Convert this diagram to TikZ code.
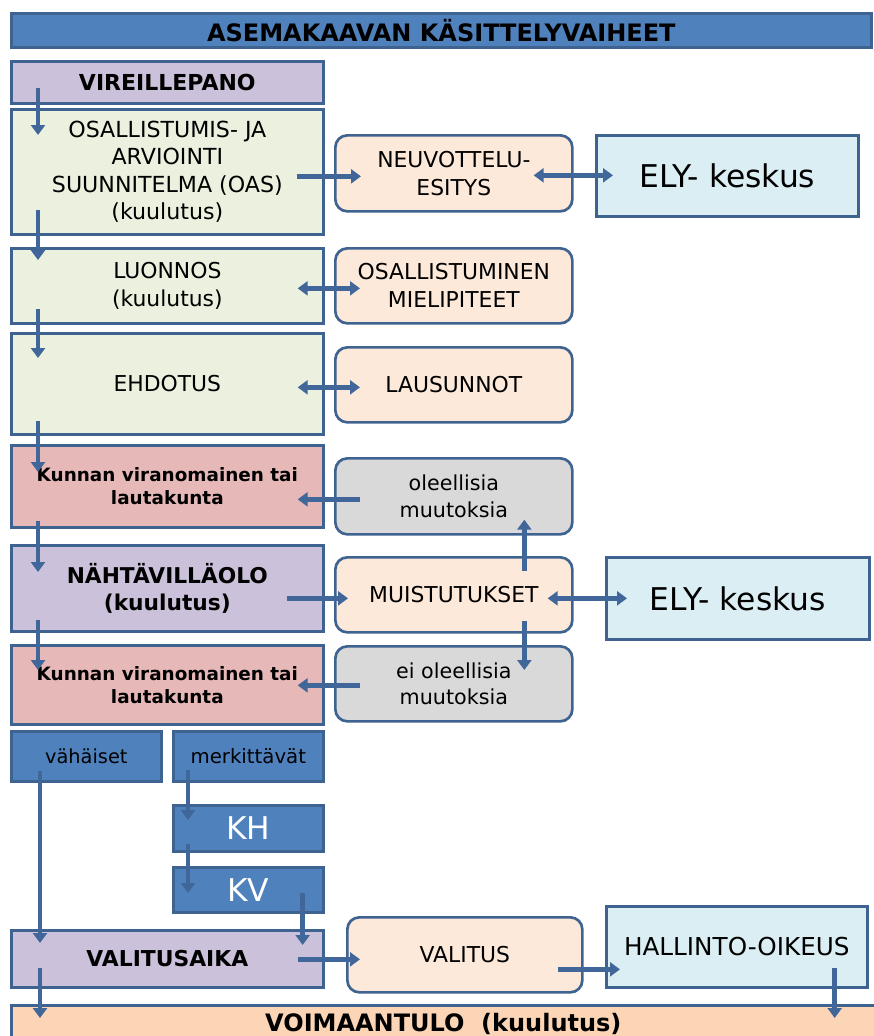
\documentclass[tikz,border=0pt]{standalone}
\usepackage{fontspec}
\setmainfont{DejaVu Sans}
\usetikzlibrary{arrows.meta}
\definecolor{bord}{HTML}{3F6390}
\definecolor{arrc}{HTML}{41679A}
\definecolor{titlec}{HTML}{4F81BD}
\definecolor{purp}{HTML}{CCC1DA}
\definecolor{gre}{HTML}{EBF1DE}
\definecolor{peach}{HTML}{FDE9D9}
\definecolor{lblue}{HTML}{DBEEF3}
\definecolor{pink}{HTML}{E6B9B8}
\definecolor{grey}{HTML}{D9D9D9}
\definecolor{voic}{HTML}{FBD5B5}
\tikzset{
  box/.style={draw=bord, line width=2pt, anchor=north west, align=center, inner sep=1pt, font=\fontsize{16.4}{21}\selectfont},
  rbox/.style={box, rounded corners=9pt},
  wh/.style 2 args={minimum width={#1*0.75pt}, minimum height={#2*0.75pt}},
  arr/.style={draw=arrc, line width=3.4pt, -{Triangle[width=10.5pt,length=7.5pt]}},
  darr/.style={draw=arrc, line width=3.4pt, {Triangle[width=10.5pt,length=7.5pt]}-{Triangle[width=10.5pt,length=7.5pt]}},
}
\begin{document}
\begin{tikzpicture}[x=0.75pt,y=-0.75pt]
\useasboundingbox (0,0) rectangle (874,1036);
% boxes
\node[box, fill=titlec, wh={860}{34}, font=\bfseries\fontsize{18}{20}\selectfont] (title) at (10,12) {ASEMAKAAVAN KÄSITTELYVAIHEET};
\node[box, fill=purp, wh={312}{42}, font=\bfseries\fontsize{16.5}{20}\selectfont] (vir) at (10,60) {VIREILLEPANO};
\node[box, fill=gre, wh={312}{125}, font=\fontsize{16.6}{20.5}\selectfont] (oas) at (10,108) {OSALLISTUMIS- JA\\ARVIOINTI\\SUUNNITELMA (OAS)\\(kuulutus)};
\node[rbox, fill=peach, wh={237}{76}] (neu) at (334,134) {NEUVOTTELU-\\ESITYS};
\node[box, fill=lblue, wh={262}{81}, font=\fontsize{23.5}{26}\selectfont] (ely1) at (595,134) {ELY- keskus};
\node[box, fill=gre, wh={312}{75}] (luo) at (10,247) {LUONNOS\\(kuulutus)};
\node[rbox, fill=peach, wh={237}{75}] (osa) at (334,247) {OSALLISTUMINEN\\MIELIPITEET};
\node[box, fill=gre, wh={312}{101}] (ehd) at (10,332) {EHDOTUS};
\node[rbox, fill=peach, wh={237}{75}] (lau) at (334,346) {LAUSUNNOT};
\node[box, fill=pink, wh={312}{82}, font=\bfseries\fontsize{13.8}{17}\selectfont] (kun1) at (10,444) {Kunnan viranomainen tai\\lautakunta};
\node[rbox, fill=grey, wh={237}{76}, font=\fontsize{15.5}{20}\selectfont] (ole) at (334,457) {oleellisia\\muutoksia};
\node[box, fill=purp, wh={312}{86}, font=\bfseries\fontsize{16.3}{20}\selectfont] (nah) at (10,544) {NÄHTÄVILLÄOLO\\(kuulutus)};
\node[rbox, fill=peach, wh={237}{75}] (mui) at (334,556) {MUISTUTUKSET};
\node[box, fill=lblue, wh={263}{82}, font=\fontsize{23.5}{26}\selectfont] (ely2) at (605,556) {ELY- keskus};
\node[box, fill=pink, wh={312}{79}, font=\bfseries\fontsize{13.8}{17}\selectfont] (kun2) at (10,644) {Kunnan viranomainen tai\\lautakunta};
\node[rbox, fill=grey, wh={237}{75}, font=\fontsize{15.5}{20}\selectfont] (eio) at (334,645) {ei oleellisia\\muutoksia};
\node[box, fill=titlec, wh={150}{50}, font=\fontsize{14.5}{16}\selectfont] (vah) at (10,730) {vähäiset};
\node[box, fill=titlec, wh={150}{50}, font=\fontsize{14.8}{16}\selectfont] (mer) at (172,730) {merkittävät};
\node[box, fill=titlec, wh={150}{46}, text=white, font=\fontsize{23.5}{26}\selectfont] (kh) at (172,804) {KH};
\node[box, fill=titlec, wh={150}{45}, text=white, font=\fontsize{23.5}{26}\selectfont] (kv) at (172,866) {KV};
\node[box, fill=purp, wh={312}{57}, font=\bfseries\fontsize{16.4}{20}\selectfont] (val) at (10,929) {VALITUSAIKA};
\node[rbox, fill=peach, wh={235}{75}] (vit) at (346,916) {VALITUS};
\node[box, fill=lblue, wh={261}{81}, font=\fontsize{18.5}{22}\selectfont] (hal) at (605,905) {HALLINTO-OIKEUS};
\node[box, fill=voic, wh={864}{38}, font=\bfseries\fontsize{18}{22}\selectfont] (voi) at (10,1004) {VOIMAANTULO\ \ (kuulutus)};
% vertical arrows
\draw[arr] ([shift={(28,-17)}]vir.south west) -- ([shift={(28,27)}]oas.north west);
\draw[arr] ([shift={(28,-26)}]oas.south west) -- ([shift={(28,13)}]luo.north west);
\draw[arr] ([shift={(28,-16)}]luo.south west) -- ([shift={(28,26)}]ehd.north west);
\draw[arr] ([shift={(28,-15)}]ehd.south west) -- ([shift={(28,28)}]kun1.north west);
\draw[arr] ([shift={(28,-8)}]kun1.south west) -- ([shift={(28,28)}]nah.north west);
\draw[arr] ([shift={(28,-13)}]nah.south west) -- ([shift={(28,26)}]kun2.north west);
\draw[arr] ([shift={(30,-12)}]vah.south west) -- ([shift={(30,14)}]val.north west);
\draw[arr] ([shift={(16,-13)}]mer.south west) -- ([shift={(16,16)}]kh.north west);
\draw[arr] ([shift={(16,-9)}]kh.south west) -- ([shift={(16,27)}]kv.north west);
\draw[arr] ([shift={(-22,-21)}]kv.south east) -- ([shift={(-22,16)}]val.north east);
\draw[arr] ([shift={(30,-21)}]val.south west) -- ([shift={(30,14)}]voi.north west);
\draw[arr] ([shift={(-34,-21)}]hal.south east) -- ([shift={(-42,14)}]voi.north east);
% horizontal arrows
\draw[arr] ([shift={(-28,4.5)}]oas.east) -- ([shift={(27,3)}]neu.west);
\draw[darr] ([shift={(-40,2)}]neu.east) -- ([shift={(18,-0.5)}]ely1.west);
\draw[darr] ([shift={(-27,2.5)}]luo.east) -- ([shift={(26,2.5)}]osa.west);
\draw[darr] ([shift={(-27,3.5)}]ehd.east) -- ([shift={(26,2.5)}]lau.west);
\draw[arr] ([shift={(26,3)}]ole.west) -- ([shift={(-27,13)}]kun1.east);
\draw[arr] ([shift={(70.5,15)}]mui.north) -- ([shift={(70.5,-16)}]ole.south);
\draw[arr] ([shift={(-38,10)}]nah.east) -- ([shift={(14,3.5)}]mui.west);
\draw[darr] ([shift={(-26,3.5)}]mui.east) -- ([shift={(22,0)}]ely2.west);
\draw[arr] ([shift={(70.5,-13)}]mui.south) -- ([shift={(70.5,25)}]eio.north);
\draw[arr] ([shift={(26,1.5)}]eio.west) -- ([shift={(-27,0.5)}]kun2.east);
\draw[arr] ([shift={(-27,0.5)}]val.east) -- ([shift={(14,4.5)}]vit.west);
\draw[arr] ([shift={(-26,14.5)}]vit.east) -- ([shift={(15,22.5)}]hal.west);
\end{tikzpicture}
\end{document}
